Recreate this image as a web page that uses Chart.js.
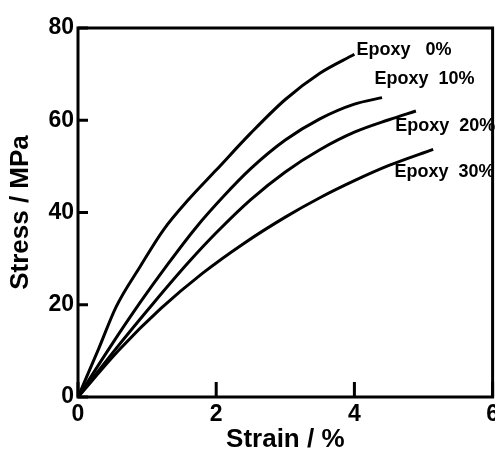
<!DOCTYPE html>
<html>
<head>
<meta charset="utf-8">
<script src="https://cdn.jsdelivr.net/npm/chart.js@4/dist/chart.umd.min.js"></script>
<style>
  html, body { margin: 0; padding: 0; background: #fff; overflow: hidden; }
  #wrap { width: 503px; height: 450px; }
</style>
</head>
<body>
<div id="wrap"><canvas id="stressStrain"></canvas></div>
<script>
// Curve data (strain in %, stress in MPa)
const seriesNames = ["Epoxy   0%", "Epoxy  10%", "Epoxy  20%", "Epoxy  30%"];

const strain0 = [0, 0.3, 0.55, 0.9, 1.24, 1.6, 2.0, 2.5, 3.0, 3.5, 4.0];
const stress0 = [0, 10.5, 19.5, 28.3, 36.3, 42.8, 49.2, 57.2, 64.5, 70.2, 74.3];

const strain10 = [0, 0.45, 0.9, 1.3, 1.7, 2.1, 2.5, 3.0, 3.5, 4.0, 4.4];
const stress10 = [0, 10.5, 20.5, 28.8, 36.6, 43.4, 49.5, 55.7, 60.3, 63.5, 64.9];

const strain20 = [0, 0.55, 1.1, 1.6, 2.0, 2.5, 3.0, 3.5, 4.0, 4.5, 4.89];
const stress20 = [0, 10.5, 20.5, 29.2, 35.6, 42.8, 48.8, 53.6, 57.4, 60.1, 62.0];

const strain30 = [0, 0.6, 1.2, 1.8, 2.4, 3.0, 3.5, 4.0, 4.5, 5.14];
const stress30 = [0, 10.3, 19.2, 26.8, 33.3, 39.0, 43.2, 46.9, 50.2, 53.7];

const xTicks = [0, 2, 4, 6];
const yTicks = [0, 20, 40, 60, 80];

// where each curve name sits, in data units
const labelStrain = [4.03, 4.29, 4.59, 4.58];
const labelStress = [75.2, 68.9, 58.7, 48.7];

const strains = [strain0, strain10, strain20, strain30];
const stresses = [stress0, stress10, stress20, stress30];

const datasets = seriesNames.map((name, i) => ({
  label: name,
  data: strains[i].map((s, j) => ({ x: s, y: stresses[i][j] })),
  borderColor: "#000",
  borderWidth: 3,
  pointRadius: 0,
  showLine: true,
  cubicInterpolationMode: "monotone",
  fill: false,
}));

// frame, inward ticks and curve names
const framePlugin = {
  id: "frame",
  afterDraw(chart) {
    const { ctx, chartArea: a, scales } = chart;
    const x = scales.x, y = scales.y;
    ctx.save();
    ctx.strokeStyle = "#000";
    ctx.lineWidth = 3;
    ctx.strokeRect(a.left, a.top, a.right - a.left, a.bottom - a.top);
    ctx.beginPath();
    xTicks.forEach((v) => {
      const px = x.getPixelForValue(v);
      ctx.moveTo(px, a.bottom);
      ctx.lineTo(px, a.bottom - 15);
    });
    yTicks.forEach((v) => {
      const py = y.getPixelForValue(v);
      ctx.moveTo(a.left, py);
      ctx.lineTo(a.left + 10, py);
    });
    ctx.stroke();

    ctx.fillStyle = "#000";
    ctx.font = "bold 18px 'Liberation Sans', Arial, sans-serif";
    ctx.textAlign = "left";
    ctx.textBaseline = "middle";
    seriesNames.forEach((name, i) => {
      ctx.fillText(name, x.getPixelForValue(labelStrain[i]), y.getPixelForValue(labelStress[i]));
    });
    ctx.restore();
  },
};

const tickFont = { family: "'Liberation Sans', Arial, sans-serif", size: 23, weight: "bold" };
const titleFont = { family: "'Liberation Sans', Arial, sans-serif", size: 26, weight: "bold" };

new Chart(document.getElementById("stressStrain"), {
  type: "scatter",
  data: { datasets: datasets },
  options: {
    responsive: true,
    maintainAspectRatio: false,
    animation: false,
    layout: { padding: { top: 28, right: 7, left: 0, bottom: 0 } },
    plugins: { legend: { display: false }, tooltip: { enabled: false } },
    scales: {
      x: {
        type: "linear",
        min: 0,
        max: 6,
        afterFit: (scale) => { scale.height = 53; },
        afterBuildTicks: (scale) => { scale.ticks = xTicks.map((v) => ({ value: v })); },
        grid: { display: false, drawTicks: false },
        border: { display: false },
        ticks: { color: "#000", font: tickFont, padding: 4, maxRotation: 0 },
        title: {
          display: true,
          text: "Strain / %",
          color: "#000",
          font: { ...titleFont, lineHeight: 0.75 },
          padding: { top: 0, bottom: 0 },
        },
      },
      y: {
        type: "linear",
        min: 0,
        max: 80,
        afterFit: (scale) => { scale.width = 78; },
        afterBuildTicks: (scale) => { scale.ticks = yTicks.map((v) => ({ value: v })); },
        grid: { display: false, drawTicks: false },
        border: { display: false },
        ticks: { color: "#000", font: tickFont, padding: 4 },
        title: {
          display: true,
          text: "Stress / MPa",
          color: "#000",
          font: titleFont,
          padding: { top: 5, bottom: 5 },
        },
      },
    },
  },
  plugins: [framePlugin],
});
</script>
</body>
</html>
